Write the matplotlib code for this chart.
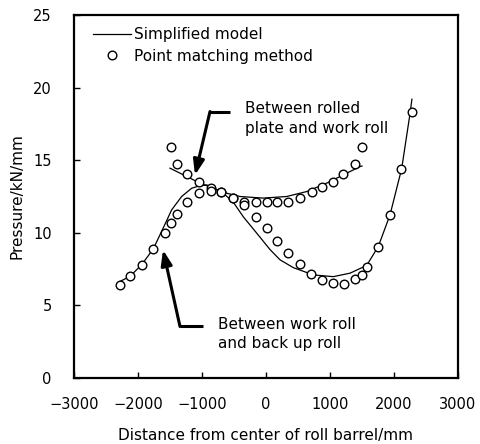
import matplotlib
matplotlib.use("Agg")
import matplotlib.pyplot as plt
import numpy as np

plt.rcParams['font.family'] = ['DejaVu Sans']

# Point matching method: pressure between rolled plate and work roll
plate_x = [-1490, -1396, -1229, -1042, -865, -700, -510, -339, -161, 10,
           167, 349, 531, 714, 870, 1040, 1210, 1396, 1495]
plate_p = [15.9, 14.72, 14.04, 13.5, 13.1, 12.8, 12.43, 12.14, 12.09, 12.09,
           12.09, 12.14, 12.43, 12.78, 13.15, 13.52, 14.04, 14.72, 15.9]

# Point matching method: pressure between work roll and back up roll
backup_x = [-2281, -2125, -1943, -1765, -1578, -1490, -1396, -1229, -1042,
            -865, -700, -510, -344, -161, 10, 170, 349, 531, 710, 870, 1040,
            1215, 1393, 1495, 1580, 1755, 1938, 2115, 2286]
backup_p = [6.4, 7.02, 7.78, 8.86, 10.02, 10.69, 11.27, 12.15, 12.73,
            12.88, 12.78, 12.43, 11.93, 11.1, 10.32, 9.45, 8.62, 7.82, 7.18,
            6.77, 6.51, 6.48, 6.81, 7.1, 7.65, 9.04, 11.24, 14.4, 18.33]

# Simplified model curves
plate_model_x = [-1500, -1240, -1031, -823, -719, -406, -42, 323, 635, 948,
                 1208, 1469, 1500]
plate_model_p = [14.45, 13.88, 13.42, 13.07, 12.84, 12.5, 12.39, 12.5, 12.84,
                 13.42, 13.99, 14.56, 14.6]

backup_model_x = [-2281, -2125, -1943, -1760, -1604, -1474, -1318, -1161,
                  -1050, -927, -800, -667, -510, -354, -146, 62, 219, 427,
                  740, 1052, 1313, 1573, 1755, 1938, 2120, 2250, 2280]
backup_model_p = [6.65, 7.0, 7.8, 8.9, 10.35, 11.58, 12.5, 13.07,
                  13.22, 13.3, 13.05, 12.73, 12.1, 11.1, 9.98, 8.85, 8.14, 7.6,
                  7.1, 6.98, 7.22, 7.75, 9.06, 11.24, 14.42, 18.2, 19.2]

FS = 11

fig = plt.figure(figsize=(4.8, 4.44), dpi=100)
ax = fig.add_axes([74/480, 1 - 378/444, (458-74)/480, (378-15)/444])

line_kw = dict(color='black', lw=0.9)
mark_kw = dict(ls='none', marker='o', ms=6.2, mfc='white', mec='black', mew=1.0)

ax.plot(plate_model_x, plate_model_p, **line_kw, label='Simplified model')
ax.plot(backup_model_x, backup_model_p, **line_kw)
ax.plot(plate_x, plate_p, **mark_kw, label='Point matching method')
ax.plot(backup_x, backup_p, **mark_kw)

ax.set_xlim(-3000, 3000)
ax.set_ylim(0, 25)
ax.set_xticks([-3000, -2000, -1000, 0, 1000, 2000, 3000])
ax.set_yticks([0, 5, 10, 15, 20, 25])
ax.set_xticklabels(['\u22123000', '\u22122000', '\u22121000', '0', '1000', '2000', '3000'])
ax.tick_params(direction='in', length=4, width=1, labelsize=10.5)
ax.tick_params(axis='x', pad=14)
ax.tick_params(axis='y', pad=16)
for s in ax.spines.values():
    s.set_linewidth(1.6)

ax.set_xlabel('Distance from center of roll barrel/mm', fontsize=FS, labelpad=11)
ax.set_ylabel('Pressure/kN/mm', fontsize=FS, labelpad=6)

ax.legend(loc='upper left', bbox_to_anchor=(0.018, 1.0), frameon=False,
          fontsize=FS, handlelength=2.45, handletextpad=0.2, labelspacing=0.42,
          borderaxespad=0.4)

arrow_style = dict(arrowstyle='-|>,head_length=0.9,head_width=0.33',
                   color='black', lw=2.2, shrinkA=0, shrinkB=0)

# Arrow pointing at the plate / work roll curve
ax.plot([-563, -875], [18.3, 18.3], color='black', lw=2.2, solid_capstyle='butt')
ax.annotate('', xy=(-1109, 13.98), xytext=(-875, 18.35), arrowprops=arrow_style)
ax.text(-328, 17.85, 'Between rolled\nplate and work roll', fontsize=FS,
        va='center', ha='left', linespacing=1.4)

# Arrow pointing at the work roll / back up roll curve
ax.plot([-984, -1344], [3.6, 3.6], color='black', lw=2.2, solid_capstyle='butt')
ax.annotate('', xy=(-1609, 8.82), xytext=(-1344, 3.55), arrowprops=arrow_style)
ax.text(-750, 3.03, 'Between work roll\nand back up roll', fontsize=FS,
        va='center', ha='left', linespacing=1.4)

fig.savefig('out.png', dpi=100)
